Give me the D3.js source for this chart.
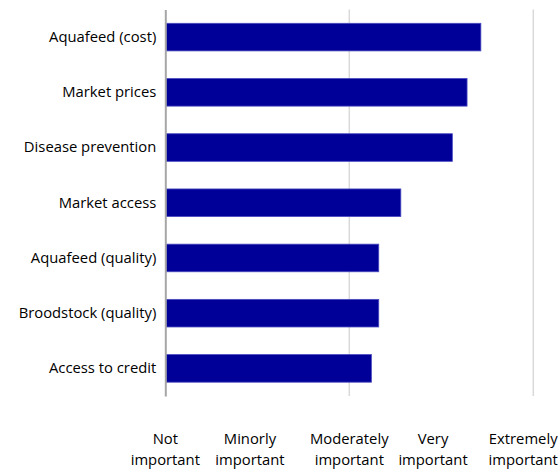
<!DOCTYPE html>
<html lang="en">
<head>
  <meta charset="UTF-8">
  <script src="https://d3js.org/d3.v7.min.js"></script>
  <style>
    body { margin: 0; background: #fff; }
    text { font-family: "Open Sans", "Noto Sans", sans-serif; fill: #000; }
  </style>
</head>
<body>
  <script>
    // data (1 = Not important ... 5 = Extremely important)
    const categories = ["Aquafeed (cost)", "Market prices", "Disease prevention", "Market access",
                        "Aquafeed (quality)", "Broodstock (quality)", "Access to credit"]
    const scores = [4.43, 4.28, 4.12, 3.56, 3.32, 3.32, 3.24]
    const tickLabels = [["Not", "important"], ["Minorly", "important"], ["Moderately", "important"],
                        ["Very", "important"], ["Extremely", "important"]]
    const tickLabelPos = [1, 1.92, 3, 3.91, 4.89]
    const gridValues = [1, 3, 5]

    const width = 558, height = 470
    const margin = {top: 9.5, right: 25, bottom: 74, left: 165.3}

    const svg = d3.select("body").append("svg")
                  .attr("width", width)
                  .attr("height", height)

    const xScale = d3.scaleLinear()
                    .domain([1, 5])
                    .range([margin.left, width - margin.right + 0.3])

    const yScale = d3.scaleBand()
                    .domain(categories)
                    .range([margin.top, height - margin.bottom])
                    .paddingInner(0.5)
                    .paddingOuter(0.25)

    // gridlines
    svg.selectAll("line.grid")
      .data(gridValues.slice(1))
      .enter()
      .append("line")
      .attr("class", "grid")
      .attr("x1", d => xScale(d))
      .attr("x2", d => xScale(d))
      .attr("y1", margin.top)
      .attr("y2", height - margin.bottom)
      .attr("stroke", "#d9d9d9")
      .attr("stroke-width", 1.5)

    // bars
    svg.selectAll("rect")
      .data(scores)
      .enter()
      .append("rect")
      .attr("x", xScale(1) + 0.5)
      .attr("y", (d, i) => yScale(categories[i]))
      .attr("width", d => xScale(d) - xScale(1) - 0.5)
      .attr("height", yScale.bandwidth())
      .attr("fill", "#000099")
      .attr("stroke", "#4a4ac0")
      .attr("stroke-width", 0.8)

    // vertical axis line + category labels
    const yAxis = d3.axisLeft(yScale).tickSize(0).tickPadding(9)
    const gy = svg.append("g")
      .attr("transform", `translate(${margin.left}, 0)`)
      .call(yAxis)
    gy.select(".domain").attr("stroke", "#a6a6a6").attr("stroke-width", 2)
    gy.selectAll("text").style("font-size", "14.8px").style("font-family", null)

    // x tick labels (two lines)
    const xl = svg.append("g")
      .selectAll("text")
      .data(tickLabels)
      .enter()
      .append("text")
      .attr("text-anchor", "middle")
      .style("font-size", "14.8px")
      .attr("x", (d, i) => xScale(tickLabelPos[i]))
      .attr("y", 444)
    xl.selectAll("tspan")
      .data(d => d)
      .enter()
      .append("tspan")
      .attr("x", function() { return d3.select(this.parentNode).attr("x") })
      .attr("dy", (d, i) => i === 0 ? 0 : 21)
      .text(d => d)
  </script>
</body>
</html>
